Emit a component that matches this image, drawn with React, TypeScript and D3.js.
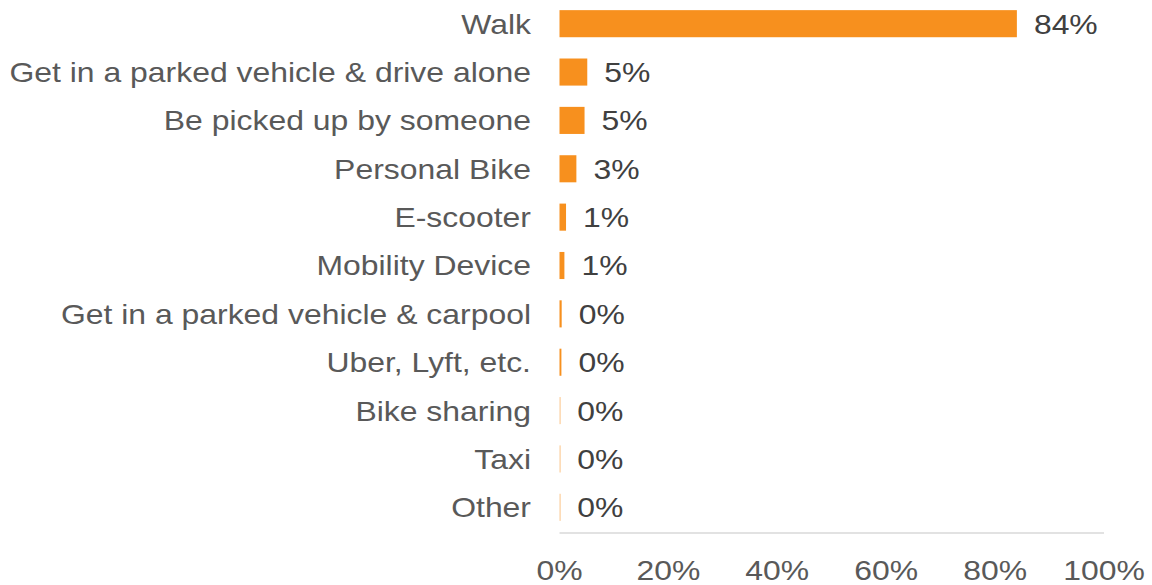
import React from "react";
import * as d3 from "d3";

const categories = [
  "Walk",
  "Get in a parked vehicle & drive alone",
  "Be picked up by someone",
  "Personal Bike",
  "E-scooter",
  "Mobility Device",
  "Get in a parked vehicle & carpool",
  "Uber, Lyft, etc.",
  "Bike sharing",
  "Taxi",
  "Other",
];
const values = [0.84, 0.051, 0.046, 0.031, 0.012, 0.009, 0.004, 0.0035, 0.0015, 0.0015, 0.0015];
const valueLabels = ["84%", "5%", "5%", "3%", "1%", "1%", "0%", "0%", "0%", "0%", "0%"];
const tickValues = [0, 0.2, 0.4, 0.6, 0.8, 1];

const W = 1152;
const H = 585;
const SX = 1.12; // the picture is a bit wider than tall

function Label(props: { x: number; y: number; anchor?: string; fill: string; children: React.ReactNode }) {
  return (
    <text
      transform={`translate(${props.x},${props.y}) scale(${SX},1)`}
      dy="0.35em"
      textAnchor={props.anchor ?? "start"}
      fill={props.fill}
    >
      {props.children}
    </text>
  );
}

export default function App() {
  const x = d3.scaleLinear().domain([0, 1]).range([559.5, 1104]);
  const y = d3
    .scaleBand<string>()
    .domain(categories)
    .range([-0.5, 531.5])
    .paddingInner(0.44)
    .paddingOuter(0.22);
  const font = "'Liberation Sans', Arial, sans-serif";
  const axisY = 533;

  return (
    <svg width={W} height={H} style={{ position: "absolute", left: 0, top: 0, background: "#fff" }}>
      <g fontFamily={font} fontSize={28.5}>
        {categories.map((c, i) => {
          const yc = (y(c) ?? 0) + y.bandwidth() / 2;
          const w = x(values[i]) - x(0);
          return (
            <g key={c}>
              <Label x={531} y={yc} anchor="end" fill="#595959">
                {c}
              </Label>
              <rect x={x(0)} y={y(c)} width={Math.max(w, 1.2)} height={y.bandwidth()} fill="#F7901E" opacity={values[i] < 0.003 ? 0.45 : 1} />
              <Label x={x(values[i]) + 17} y={yc} fill="#404040">
                {valueLabels[i]}
              </Label>
            </g>
          );
        })}
        <line x1={x(0)} x2={x(1)} y1={axisY} y2={axisY} stroke="#D9D9D9" strokeWidth={1.5} />
        {tickValues.map((t) => (
          <Label key={t} x={x(t)} y={570} anchor="middle" fill="#595959">
            {d3.format(".0%")(t)}
          </Label>
        ))}
      </g>
    </svg>
  );
}
